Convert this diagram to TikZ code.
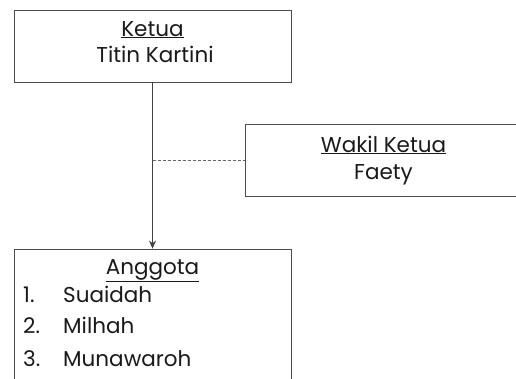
\documentclass[tikz,border=0pt]{standalone}
\usepackage{fontspec}
\setmainfont{Poppins}
\usetikzlibrary{arrows.meta}
\begin{document}
\begin{tikzpicture}[x=1pt,y=1pt,
  box/.style={draw=black!70,line width=0.8pt,rectangle,inner sep=0pt},
  txt/.style={anchor=base,inner sep=0pt,font=\fontsize{21.5}{24}\selectfont,text=black!90},
  ltxt/.style={txt,anchor=base west},
  conn/.style={draw=black!75,line width=0.9pt},
  dashline/.style={draw=black!60,line width=0.5pt,dash pattern=on 3pt off 2pt}]
\useasboundingbox (0,0) rectangle (516,-378);
\node[box,minimum width=277pt,minimum height=72pt] (ketua) at (152.5,-46) {};
\node[box,minimum width=277pt,minimum height=72pt] (wakil) at (383.5,-160) {};
\node[box,minimum width=277pt,minimum height=151pt] (anggota) at (152.5,-324.5) {};
\node[txt] (t1) at (152.5,-36) {\underline{Ketua}};
\node[txt] (t2) at (155,-62) {Titin Kartini};
\node[txt] (t3) at (383.5,-152) {\underline{Wakil Ketua}};
\node[txt] (t4) at (383.5,-179) {Faety};
\node[txt] (t5) at (152.5,-274) {\underline{Anggota}};
\node[ltxt] (n1) at (23,-302) {1.};
\node[ltxt] (m1) at (63,-302) {Suaidah};
\node[ltxt] (n2) at (23,-333) {2.};
\node[ltxt] (m2) at (63,-333) {Milhah};
\node[ltxt] (n3) at (23,-366) {3.};
\node[ltxt] (m3) at (63,-366) {Munawaroh};
\coordinate (mid) at (ketua.south |- wakil.west);
\draw[conn,-{Stealth[length=8pt,width=7pt]}] (ketua.south) -- (anggota.north);
\draw[dashline] (mid) -- (wakil.west);
\end{tikzpicture}
\end{document}
